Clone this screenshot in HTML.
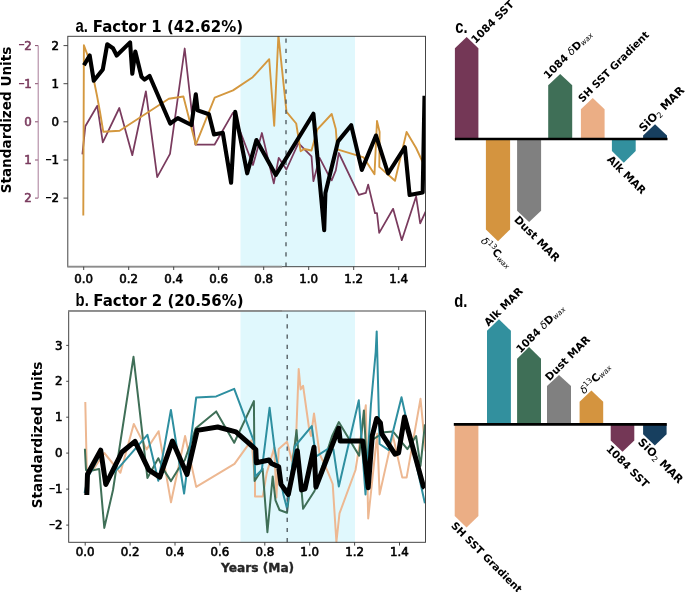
<!DOCTYPE html>
<html><head><meta charset="utf-8"><title>Factor analysis</title>
<style>
html,body{margin:0;padding:0;background:#fff}
svg{display:block}
text{font-family:"DejaVu Sans","Liberation Sans",sans-serif;font-weight:bold;fill:#000}
.tk{font-size:11.8px;font-weight:normal;stroke:#000;stroke-width:0.6px}
.tp{fill:#7A3B5E;stroke:#7A3B5E}
.pl{font-family:"Liberation Sans",sans-serif;font-size:18.5px;font-weight:bold}
.bl{font-size:10.6px}
.rg{font-weight:normal}
.it{font-weight:normal;font-style:italic}
</style></head><body>
<svg width="685" height="592" viewBox="0 0 685 592">
<rect width="685" height="592" fill="#fff"/>
<defs>
<clipPath id="ca"><rect x="68" y="36" width="357.5" height="231"/></clipPath>
<clipPath id="cb"><rect x="69" y="311" width="356.5" height="231.5"/></clipPath>
</defs>

<g id="panel-a">
<rect x="240.5" y="36.3" width="114.5" height="230.4" fill="#E0F8FD"/>
<g clip-path="url(#ca)" fill="none" stroke-linejoin="round" stroke-linecap="butt">
<polyline points="82.4,154.3 85.3,126.3 97.3,105.8 102.8,142.3 119.3,108.0 132.3,155.2 145.9,91.3 157.2,177.1 170.0,153.9 184.7,48.5 195.4,144.7 214.5,144.7 233.0,112.6 253.0,165.0 261.9,133.0 273.8,183.4 278.7,157.8 286.4,169.5 298.4,143.2 311.5,156.3 313.4,181.2 319.6,157.8 327.6,173.3 331.7,180.4 335.8,170.4 338.8,153.0 358.8,194.9 365.8,192.9 368.2,184.6 375.0,213.2 377.0,213.2 379.2,232.9 393.1,208.8 401.8,240.2 416.1,196.4 420.2,223.4 425.6,211.7" stroke="#7A3B5E" stroke-width="1.75"/>
<polyline points="83.3,215.4 83.9,45.3 89.0,59.0 94.0,81.0 97.0,95.7 100.0,112.0 103.3,131.8 119.6,130.7 160.0,104.5 168.8,98.7 183.4,96.5 195.8,144.7 214.7,97.7 233.0,90.4 252.7,77.2 269.2,59.2 274.2,125.7 278.4,35.0 286.5,111.8 296.2,123.5 300.6,151.2 304.2,149.0 311.5,150.5 317.4,129.3 331.7,114.0 335.8,129.0 337.3,149.4 363.6,157.4 374.5,174.2 377.0,121.0 379.6,131.9 379.3,166.9 395.0,180.8 406.6,131.9 416.1,148.0 425.6,168.4" stroke="#D4983F" stroke-width="1.9"/>
<line x1="286" y1="266.7" x2="286" y2="36.3" stroke="#4a5358" stroke-width="1.3" stroke-dasharray="4.2 5.98"/>
<polyline points="83.9,65.3 89.7,55.5 93.8,80.8 102.8,69.4 107.2,44.3 113.0,48.2 116.7,55.5 130.1,42.4 132.3,73.8 135.3,51.5 141.5,76.7 144.5,79.6 149.6,76.0 170.2,123.5 177.8,118.1 191.4,125.0 195.8,94.3 197.7,110.4 208.9,114.3 214.0,134.5 222.8,132.8 231.1,182.8 235.2,111.8 247.2,173.3 256.4,140.0 275.8,175.0 313.4,113.7 324.2,230.1 325.4,193.0 338.0,141.4 351.2,125.2 361.8,169.9 376.0,135.5 388.1,173.5 404.9,147.2 409.6,195.0 422.7,192.5 424.5,95.8" stroke="#000" stroke-width="4.1"/>
</g>
<rect x="67.8" y="36.3" width="357.7" height="230.4" fill="none" stroke="#3c3c3c" stroke-width="0.95"/>
<line x1="67.3" y1="266.6" x2="282" y2="266.6" stroke="#8c8c8c" stroke-width="1.7"/>
<line x1="63.5" y1="45.6" x2="67.8" y2="45.6" stroke="#333" stroke-width="0.9"/>
<text class="tk" x="59" y="49.8" text-anchor="end">2</text>
<line x1="35" y1="45.6" x2="38.2" y2="45.6" stroke="#7A3B5E" stroke-width="0.9"/>
<text class="tk tp" x="31.8" y="49.8" text-anchor="end"><tspan font-size="7.4" dy="-2.4">−</tspan><tspan dy="2.4" dx="-0.3">2</tspan></text>
<line x1="63.5" y1="83.7" x2="67.8" y2="83.7" stroke="#333" stroke-width="0.9"/>
<text class="tk" x="59" y="87.9" text-anchor="end">1</text>
<line x1="35" y1="83.7" x2="38.2" y2="83.7" stroke="#7A3B5E" stroke-width="0.9"/>
<text class="tk tp" x="31.8" y="87.9" text-anchor="end"><tspan font-size="7.4" dy="-2.4">−</tspan><tspan dy="2.4" dx="-0.3">1</tspan></text>
<line x1="63.5" y1="121.8" x2="67.8" y2="121.8" stroke="#333" stroke-width="0.9"/>
<text class="tk" x="59" y="126.0" text-anchor="end">0</text>
<line x1="35" y1="121.8" x2="38.2" y2="121.8" stroke="#7A3B5E" stroke-width="0.9"/>
<text class="tk tp" x="31.8" y="126.0" text-anchor="end">0</text>
<line x1="63.5" y1="160" x2="67.8" y2="160" stroke="#333" stroke-width="0.9"/>
<text class="tk" x="59" y="164.2" text-anchor="end"><tspan font-size="7.4" dy="-2.4">−</tspan><tspan dy="2.4" dx="-0.3">1</tspan></text>
<line x1="35" y1="160" x2="38.2" y2="160" stroke="#7A3B5E" stroke-width="0.9"/>
<text class="tk tp" x="31.8" y="164.2" text-anchor="end">1</text>
<line x1="63.5" y1="198.1" x2="67.8" y2="198.1" stroke="#333" stroke-width="0.9"/>
<text class="tk" x="59" y="202.3" text-anchor="end"><tspan font-size="7.4" dy="-2.4">−</tspan><tspan dy="2.4" dx="-0.3">2</tspan></text>
<line x1="35" y1="198.1" x2="38.2" y2="198.1" stroke="#7A3B5E" stroke-width="0.9"/>
<text class="tk tp" x="31.8" y="202.3" text-anchor="end">2</text>
<line x1="38.2" y1="45.6" x2="38.2" y2="198.1" stroke="#A97B98" stroke-width="1"/>
<line x1="83.7" y1="266.7" x2="83.7" y2="270" stroke="#333" stroke-width="0.9"/>
<text class="tk" x="83.7" y="282.5" text-anchor="middle">0.0</text>
<line x1="128.7" y1="266.7" x2="128.7" y2="270" stroke="#333" stroke-width="0.9"/>
<text class="tk" x="128.7" y="282.5" text-anchor="middle">0.2</text>
<line x1="173.7" y1="266.7" x2="173.7" y2="270" stroke="#333" stroke-width="0.9"/>
<text class="tk" x="173.7" y="282.5" text-anchor="middle">0.4</text>
<line x1="218.7" y1="266.7" x2="218.7" y2="270" stroke="#333" stroke-width="0.9"/>
<text class="tk" x="218.7" y="282.5" text-anchor="middle">0.6</text>
<line x1="263.7" y1="266.7" x2="263.7" y2="270" stroke="#333" stroke-width="0.9"/>
<text class="tk" x="263.7" y="282.5" text-anchor="middle">0.8</text>
<line x1="308.7" y1="266.7" x2="308.7" y2="270" stroke="#333" stroke-width="0.9"/>
<text class="tk" x="308.7" y="282.5" text-anchor="middle">1.0</text>
<line x1="353.7" y1="266.7" x2="353.7" y2="270" stroke="#333" stroke-width="0.9"/>
<text class="tk" x="353.7" y="282.5" text-anchor="middle">1.2</text>
<line x1="398.7" y1="266.7" x2="398.7" y2="270" stroke="#333" stroke-width="0.9"/>
<text class="tk" x="398.7" y="282.5" text-anchor="middle">1.4</text>
<text x="6" y="120" font-size="13.6" text-anchor="middle" transform="rotate(-90 6 120)" dominant-baseline="central">Standardized Units</text>
<text class="pl" transform="translate(75.6,32.3) scale(0.8,1)">a.</text>
<text x="92.8" y="31.9" font-size="15">Factor 1 (42.62%)</text>
</g>
<g id="panel-b">
<rect x="240.5" y="311" width="114.5" height="231.3" fill="#E0F8FD"/>
<g clip-path="url(#cb)" fill="none" stroke-linejoin="round" stroke-linecap="butt">
<polyline points="85.3,402.0 86.8,471.3 93.0,470.0 104.3,453.0 120.4,472.8 133.8,423.9 146.6,449.4 158.6,431.2 171.0,502.3 185.1,436.0 196.2,486.9 234.5,463.9 251.6,440.2 255.0,481.0 255.0,496.4 262.8,496.4 266.7,473.1 274.3,447.5 276.4,497.5 278.7,449.0 287.0,441.8 292.0,461.0 296.2,435.0 298.7,369.0 300.6,389.4 303.1,385.8 309.3,430.0 311.0,436.0 314.0,413.5 319.6,453.8 327.6,471.3 332.7,484.0 336.4,542.0 339.5,513.4 355.5,470.0 365.8,405.3 368.2,518.5 377.2,433.8 379.6,494.4 392.8,435.3 402.3,477.6 406.6,477.6 420.5,398.8 425.6,451.3" stroke="#EDB892" stroke-width="2"/>
<polyline points="84.9,448.7 86.0,470.0 91.9,470.6 99.2,469.1 104.3,527.9 113.0,490.0 133.5,356.8 147.4,477.9 158.3,458.2 164.4,470.9 171.0,481.1 179.0,468.0 184.8,460.0 195.8,428.2 216.2,411.4 234.2,442.8 253.9,401.1 254.6,481.0 262.6,468.5 267.4,532.2 272.7,476.4 275.5,500.4 279.5,510.0 287.0,512.8 296.5,430.0 303.1,508.8 314.5,491.0 332.0,436.3 338.8,422.1 359.2,455.7 363.9,410.4 367.0,470.0 372.0,440.0 384.0,432.3 393.1,431.6 407.4,449.1 416.1,436.0 420.5,465.9 424.9,424.3" stroke="#3F6F57" stroke-width="2"/>
<polyline points="84.6,493.0 88.0,477.0 100.0,455.0 106.0,480.0 118.2,468.4 147.4,434.8 158.3,480.8 170.9,409.9 184.1,493.5 196.2,397.5 216.2,396.4 234.2,388.8 253.9,441.4 255.2,476.5 261.8,470.0 269.6,407.7 274.5,448.0 283.5,495.0 287.0,508.5 294.7,446.5 311.8,426.1 315.9,456.7 329.1,448.0 333.4,449.4 338.8,486.4 358.8,400.2 365.5,494.4 370.9,405.0 375.7,352.0 376.7,331.4 379.6,444.0 388.4,449.9 401.5,397.3 424.9,503.2" stroke="#2E8FA0" stroke-width="2"/>
<line x1="287.2" y1="542.3" x2="287.2" y2="311" stroke="#4a5358" stroke-width="1.3" stroke-dasharray="4.2 5.98"/>
<polyline points="86.8,495.0 87.5,474.2 100.7,450.1 105.8,484.5 121.8,452.3 135.0,441.4 148.8,469.9 159.8,477.2 172.4,441.0 187.0,474.5 197.2,430.4 217.7,427.0 235.9,431.8 255.8,449.5 256.4,462.8 269.0,460.0 271.5,463.5 278.7,466.7 281.0,484.4 288.3,494.5 297.3,450.7 301.5,490.0 305.0,488.8 314.0,447.2 315.9,487.0 338.8,428.0 340.2,441.1 362.8,441.1 368.2,487.8 372.3,435.3 376.7,418.5 380.4,422.8 381.8,433.8 395.0,454.2 398.6,452.8 404.5,417.0 423.4,486.4 424.8,488.0" stroke="#000" stroke-width="5"/>
</g>
<rect x="68.7" y="311" width="356.8" height="231.3" fill="none" stroke="#3c3c3c" stroke-width="0.95"/>
<line x1="68.2" y1="310.8" x2="282" y2="310.8" stroke="#8c8c8c" stroke-width="1.7"/>
<line x1="66.2" y1="345.4" x2="68.7" y2="345.4" stroke="#333" stroke-width="0.9"/>
<text class="tk" x="62.4" y="349.5" text-anchor="end">3</text>
<line x1="66.2" y1="381.3" x2="68.7" y2="381.3" stroke="#333" stroke-width="0.9"/>
<text class="tk" x="62.4" y="385.4" text-anchor="end">2</text>
<line x1="66.2" y1="417.2" x2="68.7" y2="417.2" stroke="#333" stroke-width="0.9"/>
<text class="tk" x="62.4" y="421.3" text-anchor="end">1</text>
<line x1="66.2" y1="453.1" x2="68.7" y2="453.1" stroke="#333" stroke-width="0.9"/>
<text class="tk" x="62.4" y="457.2" text-anchor="end">0</text>
<line x1="66.2" y1="489.1" x2="68.7" y2="489.1" stroke="#333" stroke-width="0.9"/>
<text class="tk" x="62.4" y="493.2" text-anchor="end"><tspan font-size="7.4" dy="-2.4">−</tspan><tspan dy="2.4" dx="-0.3">1</tspan></text>
<line x1="66.2" y1="525.1" x2="68.7" y2="525.1" stroke="#333" stroke-width="0.9"/>
<text class="tk" x="62.4" y="529.2" text-anchor="end"><tspan font-size="7.4" dy="-2.4">−</tspan><tspan dy="2.4" dx="-0.3">2</tspan></text>
<line x1="85.2" y1="542.3" x2="85.2" y2="545.6" stroke="#333" stroke-width="0.9"/>
<text class="tk" x="85.2" y="556.2" text-anchor="middle">0.0</text>
<line x1="130.1" y1="542.3" x2="130.1" y2="545.6" stroke="#333" stroke-width="0.9"/>
<text class="tk" x="130.1" y="556.2" text-anchor="middle">0.2</text>
<line x1="175.0" y1="542.3" x2="175.0" y2="545.6" stroke="#333" stroke-width="0.9"/>
<text class="tk" x="175.0" y="556.2" text-anchor="middle">0.4</text>
<line x1="219.9" y1="542.3" x2="219.9" y2="545.6" stroke="#333" stroke-width="0.9"/>
<text class="tk" x="219.9" y="556.2" text-anchor="middle">0.6</text>
<line x1="264.8" y1="542.3" x2="264.8" y2="545.6" stroke="#333" stroke-width="0.9"/>
<text class="tk" x="264.8" y="556.2" text-anchor="middle">0.8</text>
<line x1="309.7" y1="542.3" x2="309.7" y2="545.6" stroke="#333" stroke-width="0.9"/>
<text class="tk" x="309.7" y="556.2" text-anchor="middle">1.0</text>
<line x1="354.6" y1="542.3" x2="354.6" y2="545.6" stroke="#333" stroke-width="0.9"/>
<text class="tk" x="354.6" y="556.2" text-anchor="middle">1.2</text>
<line x1="399.5" y1="542.3" x2="399.5" y2="545.6" stroke="#333" stroke-width="0.9"/>
<text class="tk" x="399.5" y="556.2" text-anchor="middle">1.4</text>
<text x="37.1" y="435" font-size="13.6" text-anchor="middle" transform="rotate(-90 37.1 435)" dominant-baseline="central">Standardized Units</text>
<text class="pl" transform="translate(75.6,306) scale(0.8,1)">b.</text>
<text x="93.3" y="305.9" font-size="15">Factor 2 (20.56%)</text>
<text x="257.6" y="571.6" font-size="12.2" text-anchor="middle" style="fill:#262626;stroke:#262626;stroke-width:0.35px">Years (Ma)</text>
</g>
<g id="panel-c">
<polygon points="454.9,139 454.9,48.2 466.65,37.1 478.4,48.2 478.4,139" fill="#743756"/>
<polygon points="485.9,139 485.9,229.4 498.0,241.2 510.1,229.4 510.1,139" fill="#D4943F"/>
<polygon points="517.1,139 517.1,210.7 529.1,222.1 541.1,210.7 541.1,139" fill="#808080"/>
<polygon points="548.2,139 548.2,85.2 560.2,74 572.2,85.2 572.2,139" fill="#3F6F57"/>
<polygon points="580.9,139 580.9,109.3 592.75,97.9 604.6,109.3 604.6,139" fill="#EBAE85"/>
<polygon points="611.9,139 611.9,151.1 623.8,162.8 635.7,151.1 635.7,139" fill="#32909E"/>
<polygon points="643.1,139 643.1,135.5 655.05,124.2 667,135.5 667,139" fill="#173F5F"/>
<line x1="454.9" y1="139" x2="667.5" y2="139" stroke="#000" stroke-width="2.6"/>
<text class="pl" transform="translate(455.2,33.3) scale(0.8,1)">c.</text>
<text class="bl" transform="translate(475.6,43.9) rotate(-45)">1084 SST</text>
<text class="bl" transform="translate(548.1,79.5) rotate(-45)">1084 <tspan class="it">δ</tspan>D<tspan class="it" font-size="7.2" dy="1.2">wax</tspan></text>
<text class="bl" style="font-size:10.3px" transform="translate(582.4,102.8) rotate(-45)">SH SST Gradient</text>
<text class="bl" style="font-size:11.2px" transform="translate(643.4,132.5) rotate(-45)">SiO<tspan class="rg" font-size="8" dy="1.9">2</tspan><tspan dy="-1.9"> MAR</tspan></text>
<text class="bl" transform="translate(480.3,241.6) rotate(45)"><tspan class="it">δ</tspan><tspan class="rg" font-size="7.4" dy="-3.8">13</tspan><tspan dy="3.8">C</tspan><tspan class="it" font-size="7.2" dy="1.2">wax</tspan></text>
<text class="bl" style="font-size:10.8px" transform="translate(513.4,220.3) rotate(45)">Dust MAR</text>
<text class="bl" transform="translate(606.5,159.9) rotate(45)">Alk MAR</text>
</g>
<g id="panel-d">
<polygon points="454.7,424.4 454.7,516 466.54999999999995,527.4 478.4,516 478.4,424.4" fill="#EBAE85"/>
<polygon points="487,424.4 487,330.8 498.95,319.2 510.9,330.8 510.9,424.4" fill="#32909E"/>
<polygon points="517.1,424.4 517.1,358.7 529.05,347.1 541,358.7 541,424.4" fill="#3F6F57"/>
<polygon points="547,424.4 547,386 559.0,374.9 571,386 571,424.4" fill="#808080"/>
<polygon points="579.6,424.4 579.6,401.8 591.4000000000001,390.4 603.2,401.8 603.2,424.4" fill="#D4943F"/>
<polygon points="610.7,424.4 610.7,440.5 622.5,451.8 634.3,440.5 634.3,424.4" fill="#743756"/>
<polygon points="643.1,424.4 643.1,434.2 654.85,445.4 666.6,434.2 666.6,424.4" fill="#173F5F"/>
<line x1="453.8" y1="424.4" x2="666.8" y2="424.4" stroke="#000" stroke-width="2.6"/>
<text class="pl" transform="translate(454.2,307.2) scale(0.8,1)">d.</text>
<text class="bl" transform="translate(488.5,326.8) rotate(-45)">Alk MAR</text>
<text class="bl" transform="translate(520.5,353.5) rotate(-45)">1084 <tspan class="it">δ</tspan>D<tspan class="it" font-size="7.2" dy="1.2">wax</tspan></text>
<text class="bl" transform="translate(549.5,381.4) rotate(-45)">Dust MAR</text>
<text class="bl" transform="translate(584.2,394.5) rotate(-45)"><tspan class="it">δ</tspan><tspan class="rg" font-size="7.4" dy="-3.8">13</tspan><tspan dy="3.8">C</tspan><tspan class="it" font-size="7.2" dy="1.2">wax</tspan></text>
<text class="bl" style="font-size:10.3px" transform="translate(450.5,526.2) rotate(45)">SH SST Gradient</text>
<text class="bl" transform="translate(605.5,449.4) rotate(45)">1084 SST</text>
<text class="bl" style="font-size:11.1px" transform="translate(637.3,442.8) rotate(45)">SiO<tspan class="rg" font-size="8" dy="1.9">2</tspan><tspan dy="-1.9"> MAR</tspan></text>
</g>
</svg></body></html>
